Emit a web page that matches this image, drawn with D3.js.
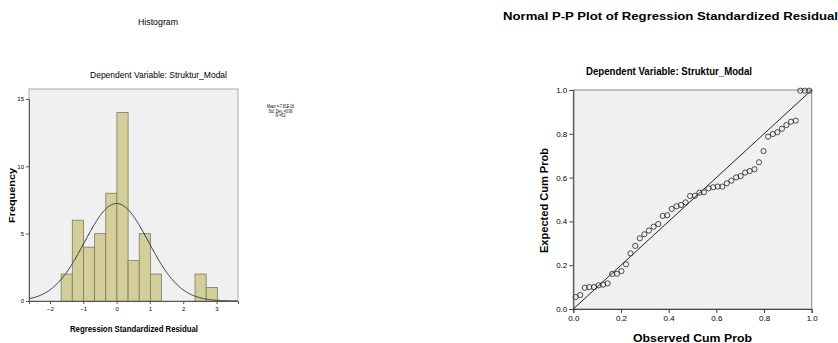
<!DOCTYPE html>
<html>
<head>
<meta charset="utf-8">
<script src="https://cdn.jsdelivr.net/npm/d3@7"></script>
<style>
  body { margin: 0; background: #fff; }
  svg text { font-family: "Liberation Sans", Arial, sans-serif; fill: #000; }
</style>
</head>
<body>
<div id="chart"></div>
<script>
// histogram: bin edges (start + width) and counts
const binStart = -1.665;
const binWidth = 0.335;
const binCounts = [2, 6, 4, 5, 8, 14, 3, 5, 2, 0, 0, 0, 2, 1];
const histXTicks = [-2, -1, 0, 1, 2, 3];
const histYTicks = [0, 5, 10, 15];
const histStats = ["Mean =-7.81E-16", "Std. Dev. =0.96", "N =52"];
const statMean = 0, statSd = 0.96, statN = 52;

// P-P plot: observed vs expected cumulative probability
const observedCum = [
  0.010, 0.029, 0.048, 0.067, 0.087, 0.106, 0.125, 0.144, 0.163, 0.183,
  0.202, 0.221, 0.240, 0.260, 0.279, 0.298, 0.317, 0.337, 0.356, 0.375,
  0.394, 0.413, 0.433, 0.452, 0.471, 0.490, 0.510, 0.529, 0.548, 0.567,
  0.587, 0.606, 0.625, 0.644, 0.663, 0.683, 0.702, 0.721, 0.740, 0.760,
  0.779, 0.798, 0.817, 0.837, 0.856, 0.875, 0.894, 0.913, 0.933, 0.952,
  0.971, 0.990
];
const expectedCum = [
  0.055, 0.064, 0.097, 0.100, 0.100, 0.108, 0.111, 0.117, 0.160, 0.161,
  0.173, 0.204, 0.254, 0.288, 0.323, 0.341, 0.358, 0.376, 0.388, 0.425,
  0.428, 0.457, 0.469, 0.475, 0.487, 0.516, 0.517, 0.531, 0.533, 0.551,
  0.556, 0.559, 0.559, 0.574, 0.586, 0.601, 0.607, 0.623, 0.630, 0.638,
  0.670, 0.721, 0.787, 0.799, 0.807, 0.823, 0.840, 0.855, 0.860, 0.997,
  0.997, 0.997
];
const ppTicks = [0, 0.2, 0.4, 0.6, 0.8, 1.0];

const svg = d3.select('#chart').append('svg')
  .attr('width', 838).attr('height', 343);

const addText = (g, txt, x, y, size, opts = {}) => {
  const t = g.append('text')
    .attr('x', x).attr('y', y)
    .attr('text-anchor', opts.anchor || 'middle')
    .style('font-size', size + 'px')
    .style('font-weight', opts.bold ? 'bold' : 'normal')
    .text(txt);
  if (opts.len) t.attr('textLength', opts.len).attr('lengthAdjust', 'spacingAndGlyphs');
  if (opts.rotate) t.attr('transform', `rotate(-90, ${x}, ${y})`);
  return t;
};

// ---------- Histogram ----------
const h = svg.append('g');
const hx = d3.scaleLinear().domain([-2.63, 3.645]).range([29, 238]);
const hy = d3.scaleLinear().domain([0, 15]).range([301, 99]);

h.append('rect')
  .attr('x', 29).attr('y', 89).attr('width', 209).attr('height', 212)
  .attr('fill', '#f0f0f0').attr('stroke', '#a8a8a8').attr('stroke-width', 1);

const bins = binCounts.map((c, i) => ({x0: binStart + i * binWidth, x1: binStart + (i + 1) * binWidth, c}))
  .filter(d => d.c > 0);

h.selectAll('rect.bar').data(bins).enter().append('rect')
  .attr('class', 'bar')
  .attr('x', d => hx(d.x0)).attr('y', d => hy(d.c))
  .attr('width', d => hx(d.x1) - hx(d.x0)).attr('height', d => hy(0) - hy(d.c))
  .attr('fill', '#d4cf9a').attr('stroke', '#7d7a5a').attr('stroke-width', 0.8);

// normal curve from the chart's stats
const xs = d3.range(-2.63, 3.646, 0.02);
const dens = x => statN * binWidth / (statSd * Math.sqrt(2 * Math.PI)) *
  Math.exp(-0.5 * Math.pow((x - statMean) / statSd, 2));
h.append('path')
  .datum(xs)
  .attr('d', d3.line().x(d => hx(d)).y(d => hy(dens(d))))
  .attr('fill', 'none').attr('stroke', '#333').attr('stroke-width', 1);

// axes
const hxAxis = h.append('g').attr('transform', 'translate(0,301)')
  .call(d3.axisBottom(hx).tickValues(histXTicks).tickSize(3).tickFormat(d3.format('d')));
const hyAxis = h.append('g').attr('transform', 'translate(29,0)')
  .call(d3.axisLeft(hy).tickValues(histYTicks).tickSize(3).tickFormat(d3.format('d')));
[hxAxis, hyAxis].forEach(a => {
  a.select('.domain').attr('stroke', '#555');
  a.selectAll('.tick line').attr('stroke', '#555');
  a.selectAll('.tick text').style('font-size', '6px').style('font-family', '"Liberation Sans", Arial, sans-serif').attr('fill', '#333');
});
hxAxis.selectAll('.tick text').attr('dy', '0.71em').attr('y', 6);
hyAxis.selectAll('.tick text').attr('x', -5);

addText(h, 'Histogram', 158, 24.5, 9, {len: 40});
addText(h, 'Dependent Variable: Struktur_Modal', 158.5, 77.5, 9, {len: 137});
histStats.forEach((s, i) => addText(h, s, 280.5, 108 + i * 4.6, 5, {len: [27, 24, 10][i]}));
addText(h, 'Frequency', 14.8, 195.5, 9, {bold: true, rotate: true, len: 55});
addText(h, 'Regression Standardized Residual', 134, 331.5, 9.5, {bold: true, len: 128});

// ---------- P-P plot ----------
const p = svg.append('g');
const px = d3.scaleLinear().domain([0, 1]).range([573.3, 811.7]);
const py = d3.scaleLinear().domain([0, 1]).range([309, 90]);

p.append('rect')
  .attr('x', 573.3).attr('y', 90).attr('width', 238.4).attr('height', 219)
  .attr('fill', '#f0f0f0').attr('stroke', '#888').attr('stroke-width', 1);

p.append('line')
  .attr('x1', px(0)).attr('y1', py(0)).attr('x2', px(1)).attr('y2', py(1))
  .attr('stroke', '#222').attr('stroke-width', 1);

p.selectAll('circle').data(observedCum.map((o, i) => [o, expectedCum[i]])).enter()
  .append('circle')
  .attr('cx', d => px(d[0])).attr('cy', d => py(d[1])).attr('r', 2.6)
  .attr('fill', 'none').attr('stroke', '#222').attr('stroke-width', 0.8);

const pxAxis = p.append('g').attr('transform', 'translate(0,309)')
  .call(d3.axisBottom(px).tickValues(ppTicks).tickSize(4).tickFormat(d3.format('.1f')));
const pyAxis = p.append('g').attr('transform', 'translate(573.3,0)')
  .call(d3.axisLeft(py).tickValues(ppTicks).tickSize(4).tickFormat(d3.format('.1f')));
[pxAxis, pyAxis].forEach(a => {
  a.select('.domain').attr('stroke', '#444');
  a.selectAll('.tick line').attr('stroke', '#444');
  a.selectAll('.tick text').style('font-size', '8px').style('font-family', '"Liberation Sans", Arial, sans-serif').attr('fill', '#222');
});
pxAxis.selectAll('.tick text').attr('y', 6);
pyAxis.selectAll('.tick text').attr('x', -6);

addText(p, 'Normal P-P Plot of Regression Standardized Residual', 670.5, 20, 11, {bold: true, len: 335});
addText(p, 'Dependent Variable: Struktur_Modal', 669, 75, 10, {bold: true, len: 166});
addText(p, 'Expected Cum Prob', 547.5, 200.5, 10.5, {bold: true, rotate: true, len: 105});
addText(p, 'Observed Cum Prob', 692.5, 341.5, 10.5, {bold: true, len: 119});
</script>
</body>
</html>
